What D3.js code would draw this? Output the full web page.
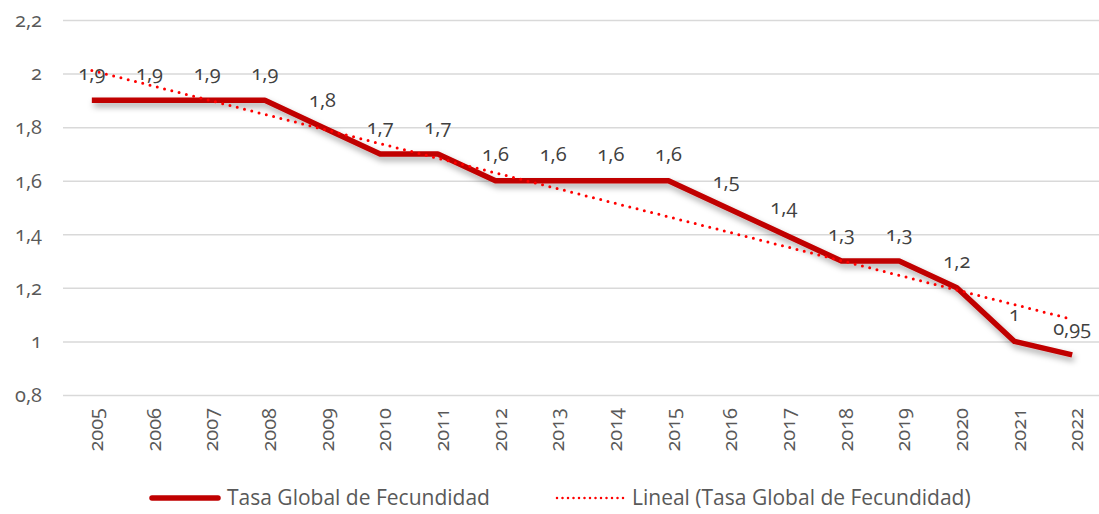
<!DOCTYPE html>
<meta charset="utf-8">
<style>
  body{ margin:0; background:#fff; }
  text{
    font-family: "Open Sans", sans-serif;
    font-variant-numeric: oldstyle-nums;
    fill: #595959;
  }
  .grid line{ stroke:#d9d9d9; stroke-width:1.5; }
</style>

<svg width="1099" height="514"></svg>

<script src="https://d3js.org/d3.v7.min.js"></script>
<script>
  // data
  const years = ['2005','2006','2007','2008','2009','2010','2011','2012','2013','2014','2015','2016','2017','2018','2019','2020','2021','2022']
  const tgf = [1.9, 1.9, 1.9, 1.9, 1.8, 1.7, 1.7, 1.6, 1.6, 1.6, 1.6, 1.5, 1.4, 1.3, 1.3, 1.2, 1, 0.95]
  const yTicks = [0.8, 1, 1.2, 1.4, 1.6, 1.8, 2, 2.2]
  const seriesName = 'Tasa Global de Fecundidad'
  const trendName = 'Lineal (Tasa Global de Fecundidad)'

  const fmt = d => String(d).replace('.', ',')

  const svg = d3.select('svg')
  const plot = {left: 63, right: 1101, top: 20, bottom: 395}

  const x = d3.scalePoint().domain(years).range([plot.left, plot.right]).padding(0.5)
  const y = d3.scaleLinear().domain([0.8, 2.2]).range([plot.bottom, plot.top])

  // shadow for the main line
  svg.append('defs').append('filter')
    .attr('id', 'shadow').attr('x', '-5%').attr('y', '-20%').attr('width', '110%').attr('height', '150%')
    .append('feDropShadow')
    .attr('dx', 2).attr('dy', 4).attr('stdDeviation', 3)
    .attr('flood-color', '#000').attr('flood-opacity', 0.35)

  // gridlines + y labels
  const gy = svg.append('g').attr('class', 'grid')
    .attr('transform', 'translate(' + plot.left + ',0)')
    .call(d3.axisLeft(y).tickValues(yTicks).tickSize(-(1099 - plot.left)).tickFormat(fmt).tickPadding(21))
  gy.select('.domain').remove()
  gy.selectAll('text').attr('font-size', 20).style('fill', '#595959')

  // x axis labels
  const gx = svg.append('g')
    .attr('transform', 'translate(0,' + plot.bottom + ')')
    .call(d3.axisBottom(x).tickSize(0))
  gx.select('.domain').remove()
  gx.selectAll('text')
    .attr('font-size', 20)
    .attr('transform', 'rotate(-90)')
    .attr('text-anchor', 'end')
    .attr('x', -13).attr('y', 0).attr('dy', '0.35em')
    .style('fill', '#595959')
  gx.selectAll('.tick').attr('transform', d => 'translate(' + (x(d) + 4) + ',0)')

  // linear trend (least squares)
  const n = tgf.length
  const xs = d3.range(1, n + 1)
  const mx = d3.mean(xs), my = d3.mean(tgf)
  const slope = d3.sum(xs, (v, i) => (v - mx) * (tgf[i] - my)) / d3.sum(xs, v => (v - mx) * (v - mx))
  const trend = xs.map(v => my + slope * (v - mx))

  const line = d3.line().x((d, i) => x(years[i])).y(d => y(d))

  svg.append('path')
    .datum(tgf)
    .attr('d', line)
    .attr('fill', 'none')
    .attr('stroke', '#c00000')
    .attr('stroke-width', 5.5)
    .attr('stroke-linejoin', 'round')
    .attr('filter', 'url(#shadow)')

  svg.append('path')
    .datum(trend)
    .attr('d', line)
    .attr('fill', 'none')
    .attr('stroke', '#ff0000')
    .attr('stroke-width', 3)
    .attr('stroke-linecap', 'round')
    .attr('stroke-dasharray', '0 7.5')

  // data labels
  svg.append('g').selectAll('text')
    .data(tgf)
    .join('text')
    .attr('x', (d, i) => x(years[i]))
    .attr('y', d => y(d) - 27)
    .attr('dy', '0.35em')
    .attr('text-anchor', 'middle')
    .attr('font-size', 20)
    .style('fill', '#404040')
    .text(fmt)

  // legend
  const lg = svg.append('g').attr('transform', 'translate(0,498)')
  lg.append('line').attr('x1', 152).attr('x2', 218).attr('y1', 0).attr('y2', 0)
    .attr('stroke', '#c00000').attr('stroke-width', 5.5).attr('stroke-linecap', 'round')
  lg.append('text').attr('x', 227).attr('y', 0).attr('dy', '0.35em').attr('font-size', 21).text(seriesName)
  lg.append('line').attr('x1', 557).attr('x2', 625).attr('y1', 0).attr('y2', 0)
    .attr('stroke', '#ff0000').attr('stroke-width', 2.5).attr('stroke-linecap', 'round').attr('stroke-dasharray', '0 5.5')
  lg.append('text').attr('x', 632).attr('y', 0).attr('dy', '0.35em').attr('font-size', 21).text(trendName)
</script>
